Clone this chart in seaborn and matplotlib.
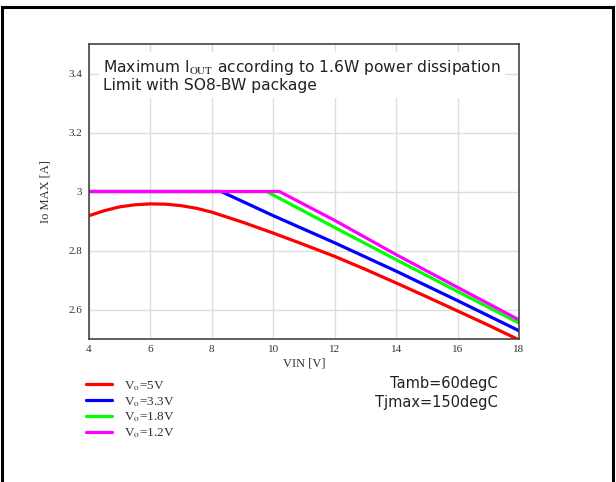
import numpy as np
import pandas as pd
import matplotlib
matplotlib.use("Agg")
import matplotlib.pyplot as plt
from matplotlib.patches import Rectangle
import seaborn as sns

# ---- data ----
vin_5v = [4, 4.5, 5, 5.5, 6, 6.5, 7, 7.5, 8, 9, 10, 11, 12, 13, 14, 15, 16, 17, 18]
io_5v = [2.918, 2.935, 2.948, 2.955, 2.958, 2.957, 2.952, 2.943, 2.930, 2.896,
         2.859, 2.820, 2.780, 2.736, 2.690, 2.643, 2.595, 2.547, 2.497]
vin_3v3 = [4, 8.3, 10, 12, 14, 16, 18]
io_3v3 = [3.0, 3.0, 2.918, 2.826, 2.730, 2.630, 2.528]
vin_1v8 = [4, 9.78, 12, 14, 16, 18]
io_1v8 = [3.0, 3.0, 2.878, 2.769, 2.661, 2.554]
vin_1v2 = [4, 10.2, 12, 14, 16, 18]
io_1v2 = [3.0, 3.0, 2.902, 2.786, 2.675, 2.565]

labels = ["V$_\\mathrm{o}$=5V", "V$_\\mathrm{o}$=3.3V", "V$_\\mathrm{o}$=1.8V", "V$_\\mathrm{o}$=1.2V"]
colors = ["#ff0000", "#0000ff", "#00ff00", "#ff00ff"]
x_ticks = [4, 6, 8, 10, 12, 14, 16, 18]
y_ticks = [2.6, 2.8, 3.0, 3.2, 3.4]
y_ticklabels = ["2.6", "2.8", "3", "3.2", "3.4"]

frames = []
for lab, vx, vy in zip(labels, [vin_5v, vin_3v3, vin_1v8, vin_1v2],
                       [io_5v, io_3v3, io_1v8, io_1v2]):
    frames.append(pd.DataFrame({"VIN": vx, "IO": vy, "series": lab}))
df = pd.concat(frames, ignore_index=True)

sns.set_theme(style="white")
plt.rcParams["font.family"] = ["DejaVu Sans"]
plt.rcParams["mathtext.fontset"] = "stix"

fig = plt.figure(figsize=(6.16, 4.82), dpi=100)
ax = fig.add_axes([89 / 616, 1 - 339 / 482, (519 - 89) / 616, (339 - 44) / 482])

sns.lineplot(data=df, x="VIN", y="IO", hue="series", hue_order=labels,
             palette=colors, estimator=None, sort=False, linewidth=2.3,
             ax=ax, legend=True)

ax.set_xlim(4, 18)
ax.set_ylim(2.5, 3.5)
ax.set_xticks(x_ticks)
ax.set_xticklabels([str(t) for t in x_ticks])
ax.set_yticks(y_ticks)
ax.set_yticklabels(y_ticklabels)
ax.grid(True, color="#dddddd", linewidth=1.0)
ax.set_axisbelow(True)
for s in ax.spines.values():
    s.set_color("#444444")
    s.set_linewidth(1.2)
ax.tick_params(length=0, labelsize=8, labelcolor="#333333")
ax.tick_params(axis="y", pad=5)
ax.tick_params(axis="x", pad=4)
for t in ax.get_xticklabels() + ax.get_yticklabels():
    t.set_fontfamily("Liberation Serif")

ax.set_xlabel("VIN [V]", fontfamily="Liberation Serif", fontsize=9, color="#333333", labelpad=3)
ax.set_ylabel("Io MAX [A]", fontfamily="Liberation Serif", fontsize=9, color="#333333", labelpad=12)

ax.text(0.033, 0.952, "Maximum I$_{\\mathrm{OUT}}$ according to 1.6W power dissipation\nLimit with SO8-BW package",
        transform=ax.transAxes, ha="left", va="top", fontsize=11.15, color="#222222",
        linespacing=1.1, bbox=dict(facecolor="white", edgecolor="none", pad=3))

handles, labs = ax.get_legend_handles_labels()
leg = ax.legend(handles, labs, loc="upper left", bbox_to_anchor=(86 / 616, 1 - 379 / 482),
                bbox_transform=fig.transFigure, frameon=False, borderpad=0, borderaxespad=0,
                handlelength=2.0, handletextpad=0.9, labelspacing=0.15,
                prop={"family": "Liberation Serif", "size": 9.5})
for line in leg.get_lines():
    line.set_linewidth(2.3)
for t in leg.get_texts():
    t.set_color("#333333")

fig.text(498 / 616, 1 - 407 / 482, "Tamb=60degC\nTjmax=150degC", ha="right", va="baseline",
         fontsize=10.5, color="#222222", linespacing=1.3, multialignment="right")

fig.patches.append(Rectangle((1.5 / 616, -0.05), (612.5 - 1.5) / 616, 1.05 - 7 / 482,
                             transform=fig.transFigure, fill=False, edgecolor="black",
                             linewidth=2.2, clip_on=False))

fig.savefig("out.png", dpi=100)
